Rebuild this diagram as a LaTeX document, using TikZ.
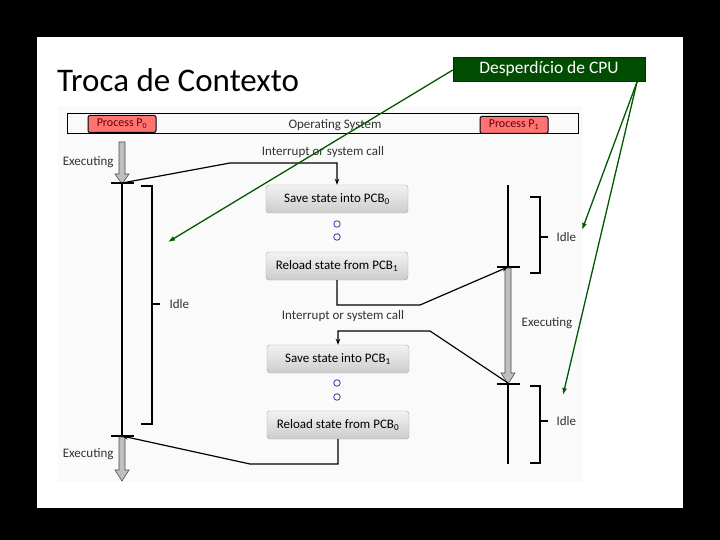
\documentclass[tikz,border=0pt]{standalone}
\usepackage{fontspec}
\setmainfont{Carlito}
\usetikzlibrary{arrows.meta,shapes.arrows}
\begin{document}
\begin{tikzpicture}[x=1pt,y=-1pt,
  pbox/.style={draw=black,line width=1pt,rounded corners=2pt,fill=red!55!white,inner sep=1pt,font=\fontsize{12}{12}\selectfont,text=red!40!black},
  stbox/.style={draw=gray!70,rounded corners=3pt,top color=gray!10,bottom color=gray!40,minimum width=142pt,minimum height=28pt,font=\fontsize{13}{14}\selectfont},
  lbl/.style={font=\fontsize{13}{14}\selectfont,text=black!80},
  ln/.style={line width=1.2pt,black},
  tick/.style={line width=1.5pt,black},
  brk/.style={line width=1.5pt,black},
  garrow/.style={draw=gray!60!black,fill=gray!50,line width=0.6pt},
  ga/.style={draw=green!35!black,line width=1.3pt,-{Latex[length=7pt,width=5pt]}},
  circ/.style={circle,draw=blue!40!gray,line width=0.9pt,inner sep=0pt,minimum size=6.5pt}]
\useasboundingbox (0,0) rectangle (720,540);
\fill[black] (0,0) rectangle (720,540);
\fill[white] (37,37) rectangle (683,508);
\fill[gray!4] (58,106) rectangle (583,482);
\node[anchor=west,font=\fontsize{33}{34}\selectfont,inner sep=0pt] (title) at (57,80) {Troca de Contexto};
% top bar
\draw[line width=1pt] (67,114) rectangle (578,134);
\node[pbox,minimum width=68pt,minimum height=17pt] (p0) at (122,124) {Process P\textsubscript{0}};
\node[pbox,minimum width=68pt,minimum height=17pt] (p1) at (514,125) {Process P\textsubscript{1}};
\node[lbl] (os) at (335,125) {Operating System};
% left timeline
\draw[garrow] (119,142) -- (125,142) -- (125,174) -- (129,174) -- (122,184) -- (115,174) -- (119,174) -- cycle;
\node[lbl,anchor=east] (ex1) at (117,162) {Executing};
\coordinate (lt) at (122,183);
\coordinate (lb) at (122,436);
\draw[tick] (111,183) -- (134,183);
\draw[ln] (lt) -- (lb);
\draw[brk] (141,186) -- (152,186) -- (152,424) -- (141,424);
\draw[brk] (152,304) -- (160,304);
\node[lbl,anchor=west] (idle1) at (166,304) {Idle};
\draw[tick] (111,436) -- (134,436);
\draw[garrow] (119,437) -- (125,437) -- (125,470) -- (129,470) -- (122,481) -- (115,470) -- (119,470) -- cycle;
\node[lbl,anchor=east] (ex2) at (117,454) {Executing};
% boxes
\node[lbl] (int1) at (323,152) {Interrupt or system call};
\node[stbox] (s0) at (337,199) {Save state into PCB\textsubscript{0}};
\node[circ] (c1) at (337,224) {};
\node[circ] (c2) at (337,237) {};
\node[stbox] (r1) at (337,266) {Reload state from PCB\textsubscript{1}};
\node[lbl] (int2) at (343,316) {Interrupt or system call};
\node[stbox] (s1) at (338,359) {Save state into PCB\textsubscript{1}};
\node[circ] (c3) at (337,383) {};
\node[circ] (c4) at (337,397) {};
\node[stbox] (r0) at (338,425) {Reload state from PCB\textsubscript{0}};
% right timeline
\coordinate (rt) at (508,185);
\coordinate (rm) at (508,267);
\coordinate (rb) at (508,383);
\coordinate (re) at (508,464);
\draw[ln] (rt) -- (rm);
\draw[tick] (497,267) -- (520,267);
\draw[garrow] (505,268) -- (511,268) -- (511,373) -- (515,373) -- (508,384) -- (501,373) -- (505,373) -- cycle;
\draw[tick] (497,384) -- (520,384);
\draw[ln] (rb) -- (re);
\draw[brk] (530,197) -- (540,197) -- (540,273) -- (530,273);
\draw[brk] (540,237) -- (548,237);
\node[lbl,anchor=west] (idle2) at (553,237) {Idle};
\node[lbl] (ex3) at (547,323) {Executing};
\draw[brk] (530,386) -- (540,386) -- (540,463) -- (530,463);
\draw[brk] (540,421) -- (548,421);
\node[lbl,anchor=west] (idle3) at (553,421) {Idle};
% connectors
\draw[ln,-{Stealth[length=6pt]}] (lt) -- (230,163) -- (337,163) -- (s0.north);
\draw[ln,-{Stealth[length=6pt]}] (r1.south) -- (337,305) -- (420,305) -- (rm);
\draw[ln,-{Stealth[length=6pt]}] (rb) -- (430,331) -- (338,331) -- (s1.north);
\draw[ln,-{Stealth[length=6pt]}] (r0.south) -- (338,464) -- (250,464) -- (lb);
% green callout
\node[draw=green!20!black,fill=green!30!black,text=white,minimum width=192pt,minimum height=24pt,font=\fontsize{17.5}{18}\selectfont,inner sep=0pt] (cpu) at (549,69) {Desperdício de CPU};
\coordinate (g1) at (168,242);
\coordinate (g2) at (582,230);
\coordinate (g3) at (563,395);
\draw[ga] (cpu.west) ++(0,1) -- (g1);
\draw[ga] (637,82) -- (g2);
\draw[ga] (637,82) -- (g3);
\end{tikzpicture}
\end{document}
